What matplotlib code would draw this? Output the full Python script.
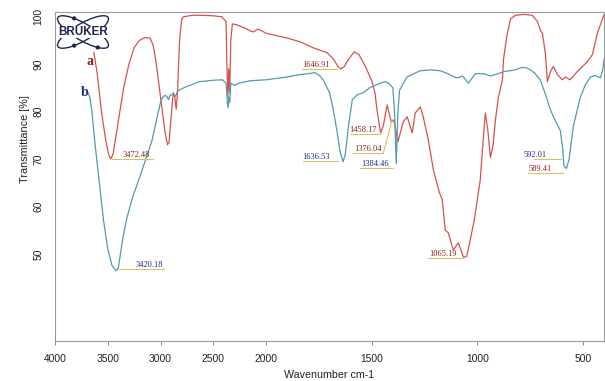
import numpy as np
import matplotlib
matplotlib.use("Agg")
import matplotlib.pyplot as plt
from matplotlib.patches import Ellipse, Circle

# ---------------- data ----------------
wn_a = [3632, 3600, 3560, 3520, 3490, 3472, 3450, 3400, 3350, 3300, 3250, 3200, 3150, 3100,
        3070, 3040, 3000, 2960, 2935, 2920, 2900, 2880, 2865, 2852, 2840, 2820, 2800, 2780,
        2700, 2600, 2500, 2420, 2380, 2372, 2362, 2355, 2345, 2335, 2320, 2280, 2200, 2150,
        2120, 2080, 2040, 2000, 1900, 1839, 1780, 1711, 1680, 1660, 1647, 1630, 1610, 1583,
        1560, 1530, 1500, 1485, 1474, 1458, 1445, 1427, 1408, 1395, 1376, 1351, 1332, 1308,
        1294, 1270, 1256, 1232, 1208, 1180, 1166, 1152, 1137, 1114, 1090, 1065, 1050, 1033,
        1015, 1000, 986, 972, 962, 950, 938, 925, 914, 900, 881, 876, 860, 843, 820, 780,
        740, 715, 700, 692, 678, 668, 654, 640, 621, 597, 583, 560, 527, 479, 455, 431, 400]
t_a = [92.5, 88.0, 80.0, 74.0, 70.8, 70.0, 71.0, 78.0, 85.0, 90.0, 93.5, 95.0, 95.6, 95.5,
       94.0, 90.0, 83.0, 76.0, 73.0, 73.5, 79.0, 84.0, 83.0, 80.5, 84.0, 95.0, 99.5, 100.0,
       100.3, 100.3, 100.2, 100.0, 99.0, 90.0, 83.0, 89.0, 84.0, 95.0, 98.5, 98.3, 97.6, 97.0,
       96.8, 97.4, 97.0, 96.5, 95.5, 94.7, 93.5, 92.4, 91.0, 89.5, 89.0, 89.5, 91.0, 92.6,
       92.0, 89.5, 86.5, 84.0, 80.0, 75.5, 77.0, 81.4, 77.8, 78.2, 73.6, 77.8, 78.9, 75.5,
       79.7, 81.0, 78.9, 74.0, 67.7, 63.0, 61.4, 55.0, 54.4, 50.8, 52.3, 49.2, 49.5, 53.0,
       57.0, 61.4, 65.6, 74.0, 79.7, 76.0, 70.3, 73.0, 78.3, 83.0, 86.7, 91.0, 96.0, 99.5,
       100.3, 100.5, 100.3, 99.0, 97.0, 96.6, 92.4, 86.3, 88.4, 89.5, 87.8, 86.7, 87.3, 86.7,
       88.4, 90.5, 92.0, 96.6, 100.4]

wn_b = [3689, 3670, 3650, 3620, 3580, 3540, 3500, 3460, 3420, 3400, 3360, 3320, 3264, 3200,
        3132, 3080, 3038, 3000, 2981, 2960, 2940, 2925, 2910, 2880, 2860, 2840, 2821, 2750,
        2632, 2500, 2415, 2380, 2368, 2360, 2352, 2345, 2335, 2300, 2255, 2150, 2000, 1900,
        1839, 1800, 1768, 1745, 1730, 1700, 1682, 1665, 1650, 1636, 1625, 1610, 1592, 1570,
        1540, 1510, 1474, 1440, 1420, 1400, 1392, 1384, 1376, 1368, 1350, 1332, 1300, 1270,
        1220, 1175, 1140, 1110, 1095, 1070, 1042, 1009, 970, 938, 900, 876, 820, 790, 763,
        730, 702, 680, 654, 630, 607, 595, 590, 578, 565, 545, 512, 490, 464, 440, 417, 405, 400]
t_b = [84.0, 83.0, 80.0, 73.0, 65.0, 57.0, 51.0, 47.5, 46.4, 47.0, 53.0, 57.5, 62.0, 66.0,
       70.5, 74.0, 78.3, 82.0, 83.0, 83.4, 83.2, 82.5, 83.5, 83.6, 83.2, 84.2, 84.6, 85.3,
       86.3, 86.6, 86.7, 86.0, 82.0, 80.8, 83.0, 82.0, 86.0, 85.5, 86.0, 86.5, 86.7, 87.3,
       87.8, 88.0, 88.2, 87.5, 86.7, 84.0, 80.4, 76.0, 71.5, 69.4, 71.0, 77.0, 82.5, 83.5,
       84.0, 85.0, 85.7, 86.3, 86.0, 85.0, 80.0, 69.0, 80.0, 84.5, 86.0, 87.3, 88.0, 88.6,
       88.8, 88.6, 88.0, 87.3, 87.1, 87.5, 86.0, 88.0, 88.0, 87.5, 88.0, 88.4, 88.8, 89.3, 89.2,
       88.2, 86.7, 84.0, 80.4, 78.0, 76.0, 72.0, 68.5, 68.0, 70.0, 77.0, 83.0, 85.5, 87.3,
       87.6, 87.1, 89.0, 91.0]

peak_labels_a = ["3472.48", "1646.91", "1458.17", "1376.04", "1065.19", "589.41"]
peak_labels_b = ["3420.18", "1636.53", "1384.46", "592.01"]
x_ticks = [4000, 3500, 3000, 2500, 2000, 1500, 1000, 500]
y_ticks = [50, 60, 70, 80, 90, 100]

# ---------------- style ----------------
RED = "#d4534c"
BLUE = "#4f9cab"
RED_TXT = "#8a1f1f"
BLUE_TXT = "#1f2b84"
LINE_Y = "#d2c26a"

plt.rcParams["font.family"] = ["Liberation Sans", "DejaVu Sans"]

fig = plt.figure(figsize=(6.05, 3.81), dpi=100)
ax = fig.add_axes([55 / 605, 40 / 381, 549 / 605, 329 / 381])


def fwd(x):
    x = np.asarray(x, dtype=float)
    return np.where(x <= 2000, x, 2000 + (x - 2000) / 2.0)


def inv(u):
    u = np.asarray(u, dtype=float)
    return np.where(u <= 2000, u, 2000 + (u - 2000) * 2.0)


ax.set_xscale("function", functions=(fwd, inv))
ax.set_xlim(4000, 400)
ax.set_ylim(31.6, 101.0)

ax.plot(wn_a, t_a, color=RED, lw=0.9)
ax.plot(wn_b, t_b, color=BLUE, lw=0.9)

ax.set_xticks(x_ticks)
ax.set_xticklabels([str(v) for v in x_ticks])
ax.set_yticks(y_ticks)
ax.set_yticklabels([str(v) for v in y_ticks], rotation=90, va="center")
ax.tick_params(axis="x", direction="out", length=3, width=0.6, color="#777777",
               labelsize=7.4, pad=6.0, labelcolor="#222222")
ax.tick_params(axis="y", length=0, labelsize=7.4, pad=8.5, labelcolor="#222222")
ax.minorticks_off()

for s in ax.spines.values():
    s.set_color("#9a9a9a")
    s.set_linewidth(0.8)

ax.set_xlabel("Wavenumber cm-1", fontsize=7.7, color="#222222")
ax.xaxis.set_label_coords(0.5, -0.088)
ax.set_ylabel("Transmittance [%]", fontsize=7.8, color="#222222")
ax.yaxis.set_label_coords(-0.046, 0.614)

# ---------------- peak annotations ----------------
serif = ["Liberation Serif", "DejaVu Serif"]
# (label, line x0, line x1, line y, text x, color)
ann = [
    (peak_labels_a[0], 3462, 3075, 70.0, 3231, RED_TXT),
    (peak_labels_b[0], 3396, 2972, 46.8, 3108, BLUE_TXT),
    (peak_labels_a[1], 1829, 1663, 89.0, 1765, RED_TXT),
    (peak_labels_b[1], 1825, 1659, 69.6, 1765, BLUE_TXT),
    (peak_labels_a[2], 1602, 1460, 75.3, 1543, RED_TXT),
    (peak_labels_a[3], 1588, 1445, 71.3, 1519, RED_TXT),
    (peak_labels_b[2], 1554, 1398, 68.1, 1486, BLUE_TXT),
    (peak_labels_a[4], 1232, 1071, 49.2, 1163, RED_TXT),
    (peak_labels_b[3], 733, 605, 70.0, 725, BLUE_TXT),
    (peak_labels_a[5], 758, 592, 67.1, 704, RED_TXT),
]
for lab, x0, x1, y, tx, c in ann:
    ax.plot([x0, x1], [y, y], color=LINE_Y, lw=0.8)
    ax.text(tx, y + 0.35, lab, color=c, fontsize=6, family=serif,
            ha="center", va="baseline")
# connector for 1376.04
ax.plot([1445, 1403], [71.3, 78.3], color=LINE_Y, lw=0.8)

ax.text(3670, 90.5, "a", color=RED_TXT, fontsize=10, fontweight="bold",
        family=serif, ha="center", va="center")
ax.text(3717, 84.0, "b", color=BLUE_TXT, fontsize=10, fontweight="bold",
        family=serif, ha="center", va="center")

# ---------------- BRUKER logo ----------------
lax = fig.add_axes([57 / 605, (381 - 49) / 381, 52 / 605, 34 / 381])
lax.set_xlim(0, 52)
lax.set_ylim(0, 34)
lax.axis("off")
NAVY = "#1c2550"
A, B, TH = 29.0, 8.5, 30.0
for ang in (TH, -TH):
    lax.add_patch(Ellipse((26, 17), 2 * A, 2 * B, angle=ang, fill=False, ec=NAVY,
                          lw=1.0, clip_on=False))


def on_ellipse(ang, t):
    a_r, t_r = np.radians(ang), np.radians(t)
    x = 26 + A * np.cos(t_r) * np.cos(a_r) - B * np.sin(t_r) * np.sin(a_r)
    y = 17 + A * np.cos(t_r) * np.sin(a_r) + B * np.sin(t_r) * np.cos(a_r)
    return x, y


for ang, t in [(-TH, 120), (-TH, -45), (TH, 240)]:
    lax.add_patch(Circle(on_ellipse(ang, t), 1.4, color=NAVY, clip_on=False))
lax.text(26, 17, "BRUKER", fontsize=8.4, fontweight="bold", color=NAVY,
         ha="center", va="center",
         bbox=dict(boxstyle="square,pad=0.03", fc="white", ec="none"))

fig.savefig("out.png", dpi=100)
